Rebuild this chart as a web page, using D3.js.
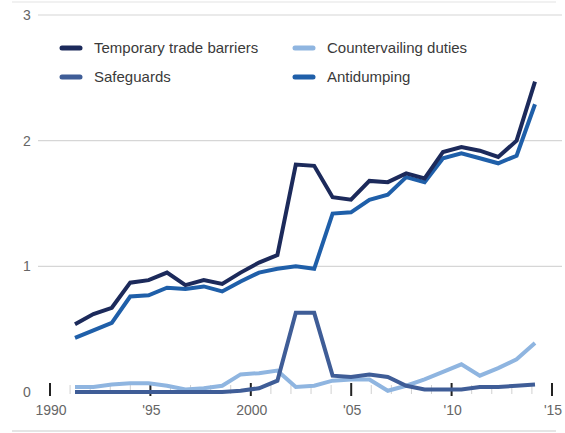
<!DOCTYPE html>
<html>
<head>
<meta charset="utf-8">
<script src="https://cdn.jsdelivr.net/npm/d3@7"></script>
<style>
  body { margin: 0; background: #fff; }
  svg { display: block; font-family: "Liberation Sans", Arial, sans-serif; }
</style>
</head>
<body>
<svg id="chart" width="565" height="433"></svg>
<script>
const years = d3.range(1990, 2016);

const temporaryTradeBarriers = [0.54, 0.62, 0.67, 0.87, 0.89, 0.95, 0.85, 0.89, 0.86, 0.95, 1.03, 1.09, 1.81, 1.80, 1.55, 1.53, 1.68, 1.67, 1.74, 1.70, 1.91, 1.95, 1.92, 1.87, 2.00, 2.47];
const antidumping = [0.43, 0.49, 0.55, 0.76, 0.77, 0.83, 0.82, 0.84, 0.80, 0.88, 0.95, 0.98, 1.00, 0.98, 1.42, 1.43, 1.53, 1.57, 1.71, 1.67, 1.86, 1.90, 1.86, 1.82, 1.88, 2.29];
const safeguards = [0, 0, 0, 0, 0, 0, 0, 0, 0, 0.01, 0.03, 0.09, 0.63, 0.63, 0.13, 0.12, 0.14, 0.12, 0.05, 0.02, 0.02, 0.02, 0.04, 0.04, 0.05, 0.06];
const countervailing = [0.04, 0.04, 0.06, 0.07, 0.07, 0.05, 0.02, 0.03, 0.05, 0.14, 0.15, 0.17, 0.04, 0.05, 0.09, 0.10, 0.10, 0.01, 0.05, 0.10, 0.16, 0.22, 0.13, 0.19, 0.26, 0.39];

const yTicks = [0, 1, 2, 3];
const majorYears = [1990, 1995, 2000, 2005, 2010, 2015];
const majorLabels = ["1990", "'95", "2000", "'05", "'10", "'15"];

const series = [
  { name: "Countervailing duties", values: countervailing, color: "#8fb5e0" },
  { name: "Safeguards", values: safeguards, color: "#3f5d97" },
  { name: "Antidumping", values: antidumping, color: "#1f5fa9" },
  { name: "Temporary trade barriers", values: temporaryTradeBarriers, color: "#1c2a5b" }
];
const legendOrder = ["Temporary trade barriers", "Countervailing duties", "Safeguards", "Antidumping"];

const svg = d3.select("#chart");

// axis scale and (inset) data scale
const xAxis = d3.scaleLinear().domain([1990, 2015]).range([50, 552]);
const x = d3.scaleLinear().domain([1990, 2015]).range([75, 535]);
const y = d3.scaleLinear().domain([0, 3]).range([392, 15]);

// thin separators top and bottom
svg.append("line").attr("x1", 12).attr("x2", 556).attr("y1", 2).attr("y2", 2)
  .attr("stroke", "#ececec").attr("stroke-width", 1.5);
svg.append("line").attr("x1", 12).attr("x2", 556).attr("y1", 431).attr("y2", 431)
  .attr("stroke", "#dcdcdc").attr("stroke-width", 1.5);

// grid
svg.append("g")
  .selectAll("line")
  .data(yTicks.filter(d => d > 0))
  .join("line")
  .attr("x1", 38).attr("x2", 562)
  .attr("y1", d => y(d)).attr("y2", d => y(d))
  .attr("stroke", "#d6d6d6").attr("stroke-width", 1.2);

svg.append("g")
  .selectAll("text")
  .data(yTicks)
  .join("text")
  .attr("x", 27).attr("y", d => y(d))
  .attr("dy", "0.36em")
  .attr("text-anchor", "middle")
  .attr("fill", "#666")
  .style("font-size", "14px")
  .text(d => d);

// minor ticks each year
svg.append("g")
  .selectAll("line")
  .data(d3.range(1990, 2016).filter(d => d % 5 !== 0))
  .join("line")
  .attr("x1", d => xAxis(d)).attr("x2", d => xAxis(d))
  .attr("y1", 385).attr("y2", 394)
  .attr("stroke", "#d0d0d0").attr("stroke-width", 1);

svg.append("g")
  .selectAll("line")
  .data(majorYears)
  .join("line")
  .attr("x1", d => xAxis(d)).attr("x2", d => xAxis(d))
  .attr("y1", 383).attr("y2", 396)
  .attr("stroke", "#222").attr("stroke-width", 2);

svg.append("g")
  .selectAll("text")
  .data(majorYears)
  .join("text")
  .attr("x", d => xAxis(d) + 1)
  .attr("y", 415)
  .attr("text-anchor", "middle")
  .attr("fill", "#666")
  .style("font-size", "14px")
  .text((d, i) => majorLabels[i]);

// lines
const line = d3.line()
  .x((d, i) => x(years[i]))
  .y(d => y(d));

svg.append("g")
  .selectAll("path")
  .data(series)
  .join("path")
  .attr("d", d => line(d.values))
  .attr("fill", "none")
  .attr("stroke", d => d.color)
  .attr("stroke-width", 4)
  .attr("stroke-linejoin", "miter");

// legend
const legend = svg.append("g")
  .selectAll("g")
  .data(legendOrder.map(n => series.find(s => s.name === n)))
  .join("g")
  .attr("transform", (d, i) => `translate(${i % 2 === 0 ? 62 : 295},${i < 2 ? 48 : 77})`);

legend.append("line")
  .attr("x1", 0).attr("x2", 18)
  .attr("stroke", d => d.color)
  .attr("stroke-width", 5)
  .attr("stroke-linecap", "round");

legend.append("text")
  .attr("x", 32).attr("dy", "0.35em")
  .attr("fill", "#3a3a3a")
  .style("font-size", "15px")
  .text(d => d.name);
</script>
</body>
</html>
